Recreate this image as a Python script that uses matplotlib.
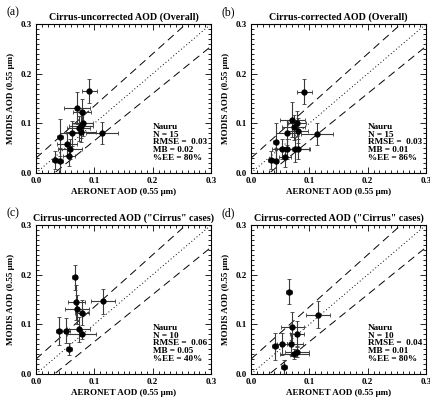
import matplotlib
matplotlib.use("Agg")
import matplotlib.pyplot as plt
from matplotlib.ticker import MultipleLocator, FormatStrFormatter
import numpy as np

plt.rcParams['font.family'] = ['Liberation Serif', 'DejaVu Serif']

# (a) cirrus-uncorrected, overall
a_x = [0.091, 0.070, 0.079, 0.077, 0.073, 0.080, 0.077, 0.113, 0.061, 0.041, 0.053, 0.058, 0.057, 0.033, 0.041]
a_y = [0.165, 0.131, 0.123, 0.095, 0.090, 0.100, 0.083, 0.080, 0.080, 0.072, 0.058, 0.048, 0.034, 0.027, 0.025]
a_xe = [0.013, 0.022, 0.015, 0.020, 0.020, 0.018, 0.025, 0.027, 0.020, 0.005, 0.017, 0.020, 0.010, 0.005, 0.005]
a_ye = [0.025, 0.032, 0.027, 0.025, 0.025, 0.025, 0.020, 0.022, 0.025, 0.037, 0.022, 0.020, 0.020, 0.018, 0.025]

# (b) cirrus-corrected, overall
b_x = [0.091, 0.071, 0.079, 0.080, 0.073, 0.062, 0.113, 0.042, 0.053, 0.061, 0.075, 0.081, 0.058, 0.034, 0.042]
b_y = [0.164, 0.107, 0.100, 0.085, 0.092, 0.081, 0.079, 0.063, 0.048, 0.048, 0.048, 0.048, 0.033, 0.027, 0.025]
b_xe = [0.013, 0.022, 0.015, 0.018, 0.020, 0.020, 0.027, 0.005, 0.017, 0.020, 0.025, 0.020, 0.010, 0.005, 0.005]
b_ye = [0.025, 0.035, 0.025, 0.025, 0.025, 0.025, 0.022, 0.037, 0.020, 0.020, 0.025, 0.020, 0.020, 0.018, 0.025]

# (c) cirrus-uncorrected, "Cirrus" cases
c_x = [0.066, 0.069, 0.115, 0.070, 0.079, 0.040, 0.051, 0.073, 0.078, 0.057]
c_y = [0.195, 0.144, 0.146, 0.130, 0.123, 0.087, 0.087, 0.090, 0.081, 0.050]
c_xe = [0.005, 0.015, 0.020, 0.020, 0.012, 0.005, 0.008, 0.020, 0.025, 0.005]
c_ye = [0.025, 0.035, 0.025, 0.030, 0.025, 0.028, 0.025, 0.025, 0.010, 0.012]

# (d) cirrus-corrected, "Cirrus" cases
d_x = [0.065, 0.115, 0.071, 0.079, 0.041, 0.053, 0.069, 0.074, 0.079, 0.057]
d_y = [0.166, 0.119, 0.095, 0.081, 0.056, 0.060, 0.060, 0.040, 0.044, 0.015]
d_xe = [0.005, 0.020, 0.020, 0.012, 0.005, 0.008, 0.020, 0.025, 0.020, 0.005]
d_ye = [0.025, 0.027, 0.030, 0.025, 0.027, 0.022, 0.022, 0.010, 0.010, 0.014]

titles = ["Cirrus-uncorrected AOD (Overall)", "Cirrus-corrected AOD (Overall)",
          "Cirrus-uncorrected AOD (\"Cirrus\" cases)", "Cirrus-corrected AOD (\"Cirrus\" cases)"]
letters = ["(a)", "(b)", "(c)", "(d)"]
stats = ["Nauru\nN = 15\nRMSE =  0.03\nMB = 0.02\n%EE = 80%",
         "Nauru\nN = 15\nRMSE =  0.03\nMB = 0.01\n%EE = 86%",
         "Nauru\nN = 10\nRMSE =  0.06\nMB = 0.05\n%EE = 40%",
         "Nauru\nN = 10\nRMSE =  0.04\nMB = 0.01\n%EE = 80%"]
data = [(a_x, a_y, a_xe, a_ye), (b_x, b_y, b_xe, b_ye),
        (c_x, c_y, c_xe, c_ye), (d_x, d_y, d_xe, d_ye)]

fig = plt.figure(figsize=(4.30, 3.97), dpi=100)
lefts = [36 / 430, 251 / 430]
bottoms = [(397 - 173) / 397, (397 - 374) / 397]
w, h = 175 / 430, 149 / 397

line = np.array([0.0, 0.3])
for i in range(4):
    ax = fig.add_axes([lefts[i % 2], bottoms[i // 2], w, h])
    x, y, xe, ye = data[i]
    ax.plot(line, line, color="black", linestyle=(0, (1, 2.5)), linewidth=0.7)
    ax.plot(line, 0.03 + 1.05 * line, color="black", linestyle=(0, (8, 5)), linewidth=0.7)
    ax.plot(line, 0.95 * line - 0.03, color="black", linestyle=(0, (8, 5)), linewidth=0.7)
    ax.errorbar(x, y, xerr=xe, yerr=ye, fmt="o", color="black", ecolor="#3a3a3a",
                markersize=3.5, elinewidth=0.8, capsize=1.5, capthick=0.6)
    ax.set_xlim(0, 0.3)
    ax.set_ylim(0, 0.3)
    ax.xaxis.set_major_locator(MultipleLocator(0.1))
    ax.yaxis.set_major_locator(MultipleLocator(0.1))
    ax.xaxis.set_minor_locator(MultipleLocator(0.01))
    ax.yaxis.set_minor_locator(MultipleLocator(0.01))
    ax.xaxis.set_major_formatter(FormatStrFormatter("%.1f"))
    ax.yaxis.set_major_formatter(FormatStrFormatter("%.1f"))
    ax.tick_params(which="both", direction="in", top=True, right=True, width=0.6,
                   labelsize=6.5, pad=3)
    ax.tick_params(which="major", length=4)
    ax.tick_params(which="minor", length=2)
    for lab in ax.get_xticklabels() + ax.get_yticklabels():
        lab.set_fontweight("bold")
    for s in ax.spines.values():
        s.set_linewidth(0.8)
    ax.set_xlabel("AERONET AOD (0.55 \u03bcm)", fontsize=6.5, fontweight="bold", labelpad=2)
    ax.set_ylabel("MODIS AOD (0.55 \u03bcm)", fontsize=6.5, fontweight="bold", labelpad=4)
    ax.set_title(titles[i], fontsize=7.2, fontweight="bold", pad=3)
    ax.text(-0.17, 1.04, letters[i], transform=ax.transAxes, fontsize=8.5, va="bottom")
    ax.text(0.201, 0.101, stats[i], fontsize=6.6, fontweight="bold", va="top", ha="left",
            linespacing=0.95)

fig.savefig("out.png", dpi=100)
